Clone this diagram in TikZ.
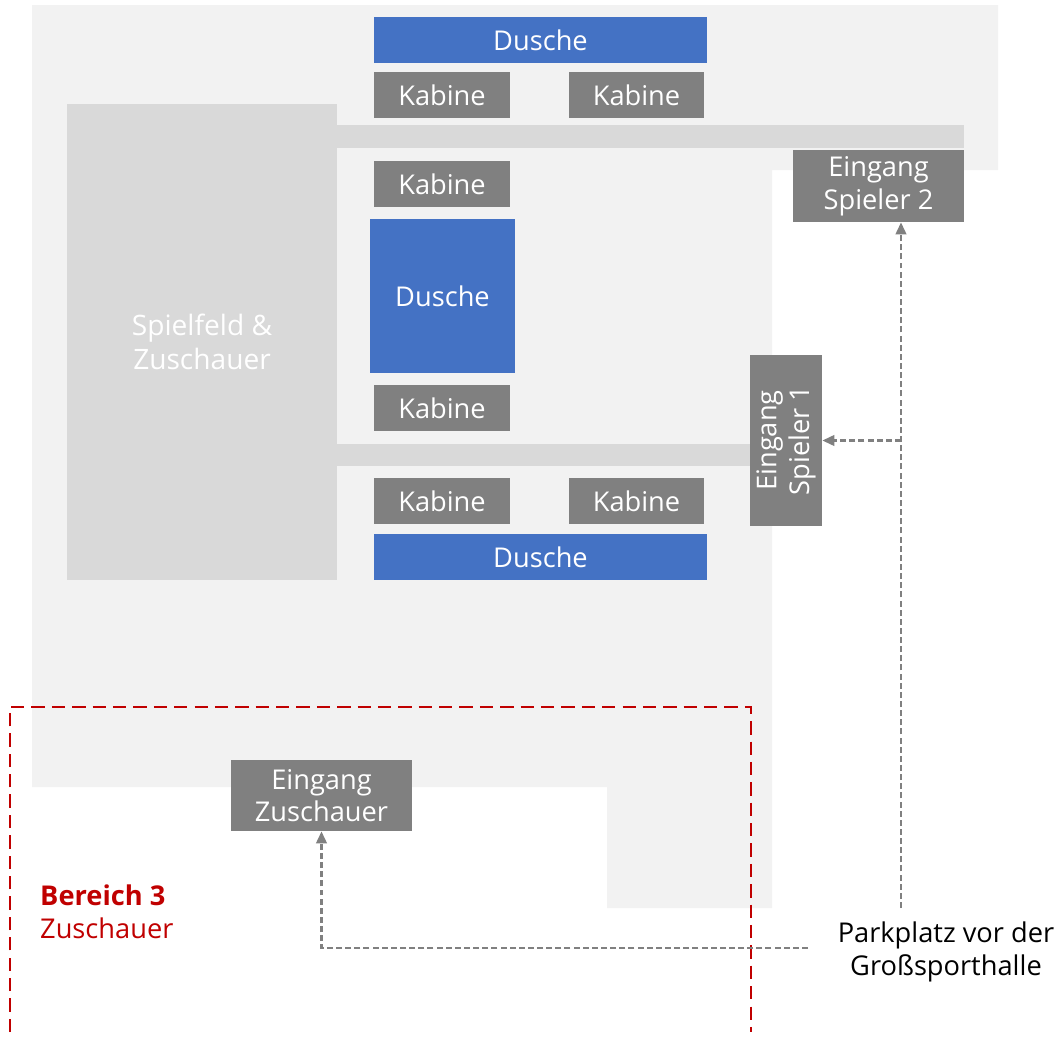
\documentclass[tikz,border=0pt]{standalone}
\usepackage{fontspec}
\setmainfont{Open Sans}
\usetikzlibrary{positioning,arrows.meta}
\definecolor{bggray}{HTML}{F2F2F2}
\definecolor{fieldgray}{HTML}{D9D9D9}
\definecolor{roomgray}{HTML}{808080}
\definecolor{showerblue}{HTML}{4472C4}
\definecolor{zonered}{HTML}{C00000}

\begin{document}
\begin{tikzpicture}[
    x=0.02cm, y=-0.02cm,
    every node/.style={align=center, font=\fontsize{15.5}{18.6}\selectfont},
    room/.style={fill=roomgray, text=white, inner sep=0pt, minimum width=2.72cm, minimum height=0.92cm},
    shower/.style={room, fill=showerblue},
    entry/.style={room, minimum width=3.42cm, minimum height=1.44cm},
    path_arrow/.style={-{Triangle[length=2.4mm, width=2.1mm]}, roomgray, line width=1.4pt, dash pattern=on 3.4pt off 1.8pt},
    zone/.style={zonered, line width=1.5pt, dash pattern=on 7.6pt off 4pt}
]
\useasboundingbox (0,0) rectangle (1056,1038);

% Building outline and corridors
\fill[bggray] (32,5) -- (998,5) -- (998,170) -- (772,170) -- (772,908) -- (607,908) -- (607,787) -- (32,787) -- cycle;
\fill[fieldgray] (337,125) rectangle (964,148);
\fill[fieldgray] (337,444) rectangle (750,466);
\node[fill=fieldgray, text=white, minimum width=5.4cm, minimum height=9.52cm, inner sep=0pt,
      font=\fontsize{16}{19.5}\selectfont] (field) at (202,342) {Spielfeld \&\\Zuschauer};

% Upper wing
\node[shower, minimum width=6.66cm] (d1) at (540.5,40) {Dusche};
\node[room] (k1) at (442,95) {Kabine};
\node[room] (k2) at (636.5,95) {Kabine};

% Middle wing
\node[room] (k3) at (442,184) {Kabine};
\node[shower, minimum width=2.9cm, minimum height=3.08cm] (d2) at (442.5,296) {Dusche};
\node[room] (k4) at (442,408) {Kabine};

% Lower wing
\node[room] (k5) at (442,501) {Kabine};
\node[room] (k6) at (636.5,501) {Kabine};
\node[shower, minimum width=6.66cm] (d3) at (540.5,557) {Dusche};

% Entrances
\node[entry] (e2) at (878.5,186) {Eingang\\Spieler 2};
\node[entry, rotate=90] (e1) at (786,440.5) {Eingang\\Spieler 1};
\node[entry, minimum width=3.62cm, minimum height=1.42cm] (ez) at (321.5,795.5) {Eingang\\Zuschauer};

% Area 3
\draw[zone] (10,1032) -- (10,707) -- (751,707) -- (751,1032);
\node[anchor=west, text=zonered, align=left] (zone3) at (34,912) {\textbf{Bereich 3}\\Zuschauer};

% Parking and walking routes
\node (park) at (946,952) {Parkplatz vor der\\Großsporthalle};
\coordinate (p1) at (808,948);
\coordinate (p2) at (901,908);
\coordinate (j) at (901,440.5);
\draw[path_arrow] (p1) -| (ez.south);
\draw[path_arrow] (p2) -- (p2 |- e2.south);
\draw[path_arrow] (j) -- (e1.south);

\end{tikzpicture}
\end{document}
